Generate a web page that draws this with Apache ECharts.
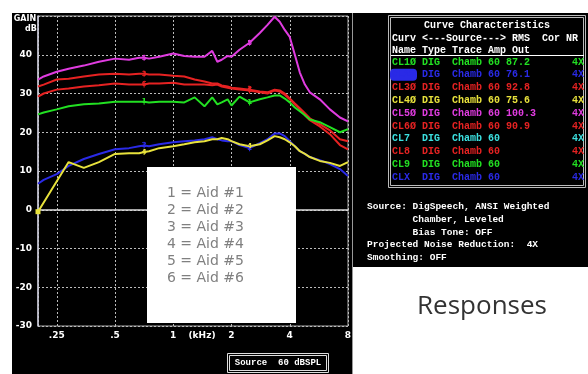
<!DOCTYPE html>
<html><head><meta charset="utf-8">
<script src="https://cdn.jsdelivr.net/npm/echarts@6/dist/echarts.min.js"></script>
<style>html,body{margin:0;padding:0;background:#fff}#c{width:588px;height:374px}</style>
</head><body><div id="c"></div>
<script>
// ---- data ----
const freqKHz = [0.2,0.214,0.25,0.288,0.345,0.413,0.5,0.591,0.666,0.707,0.75,0.846,1.0,1.14,1.29,1.45,1.59,1.69,1.78,1.91,2.0,2.2,2.48,2.8,3.07,3.34,3.55,3.77,4.0,4.25,4.51,4.79,5.08,5.72,6.45,7.27,8.0];
const aid1 = [24.6,25.1,25.9,26.7,27.2,27.4,27.9,27.9,27.9,27.9,27.7,27.9,27.9,27.7,29.0,26.7,29.0,27.2,27.7,28.5,26.9,29.2,27.7,28.5,29.0,29.5,29.5,28.7,27.7,26.4,25.4,24.4,23.3,22.6,21.3,20.0,20.8];
const aid2 = [6.7,7.7,9.2,11.3,13.1,14.4,15.6,15.9,16.4,16.6,16.4,16.9,17.4,17.7,17.9,18.2,18.7,18.2,17.9,17.7,17.7,16.7,15.9,17.2,18.2,19.7,19.7,19.0,17.7,16.4,15.1,14.4,13.6,12.8,11.8,10.5,8.7];
const aid3 = [31.8,32.3,33.6,33.8,34.4,34.9,35.1,34.9,35.1,35.1,34.9,34.9,34.6,34.4,33.6,33.1,32.6,32.6,32.1,31.8,31.5,31.3,31.0,30.5,30.3,31.0,30.8,30.0,28.7,27.4,26.2,24.9,23.6,22.1,20.5,18.2,17.7];
const aid4 = [-0.5,null,null,12.3,10.8,12.3,14.4,14.6,14.6,14.9,15.1,15.9,16.4,16.9,17.4,17.7,18.2,18.2,18.5,18.2,17.7,16.9,16.4,16.9,17.9,19.0,18.7,18.2,17.4,16.4,15.1,14.4,13.6,12.6,12.1,11.3,12.3];
const aid5 = [33.6,34.4,35.6,36.4,37.2,38.2,39.0,38.7,39.2,39.2,39.0,39.5,40.3,39.7,39.5,39.5,41.0,38.2,38.7,39.7,39.5,41.3,43.1,45.6,47.7,49.8,48.5,46.4,44.6,40.0,35.4,32.3,30.3,28.5,25.9,23.8,22.8];
const aid6 = [29.2,30.0,31.0,31.3,31.8,32.1,32.6,32.3,32.3,32.3,32.6,32.6,32.8,32.3,32.3,32.3,32.1,32.3,31.8,31.5,31.3,31.0,30.8,30.3,30.0,30.8,30.5,29.7,28.5,27.2,25.9,24.4,23.1,21.5,19.5,16.7,15.6];
const labelIdx = [9, 22];
const xTickLabels = {'-2':'.25','-1':'.5','0':'1','1':'2','2':'4','3':'8'};
const legendLines = ['1 = Aid #1','2 = Aid #2','3 = Aid #3','4 = Aid #4','5 = Aid #5','6 = Aid #6'];
const curveNames = ['CL1\u00D8','CL2\u00D8','CL3\u00D8','CL4\u00D8','CL5\u00D8','CL6\u00D8','CL7','CL8','CL9','CLX'];
const curveType = 'DIG';
const curveTrace = 'Chamb';
const curveAmp = '60';
const curveOut = ['87.2','76.1','92.8','75.6','100.3','90.9','','','',''];
const curveNR = '4X';
const infoLines = ['Source: DigSpeech, ANSI Weighted','        Chamber, Leveled','        Bias Tone: OFF','Projected Noise Reduction:  4X','Smoothing: OFF'];

// ---- styles ----
const C = {green:'#22e022', blue:'#2a2ae6', red:'#e62222', yellow:'#e8e23c', magenta:'#e03ce0', cyan:'#3ce0e0'};
const rowColors = [C.green,C.blue,C.red,C.yellow,C.magenta,C.red,C.cyan,C.red,C.green,C.blue];
const mono = '"Liberation Mono","DejaVu Sans Mono",monospace';

function mk(vals, color, num, first){
  const data = [];
  freqKHz.forEach((f,i)=>{
    const v = vals[i];
    if (v == null) return;
    if (labelIdx.indexOf(i) >= 0) data.push({value:[f,v], symbol:'rect', symbolSize:[1,6], itemStyle:{color:color},
      label:{show:true, formatter:String(num), position:'inside', color:color, fontSize:7, fontWeight:'bold', fontFamily:'DejaVu Sans'}});
    else if (i === 0 && first) data.push({value:[f,v], symbol:'rect', symbolSize:5, itemStyle:{color:color}});
    else data.push([f,v]);
  });
  return {type:'line', data, showSymbol:true, symbol:'none', lineStyle:{color, width:2}, itemStyle:{color}, silent:true, z:3};
}

const g = [];
g.push({type:'rect', shape:{x:0,y:0,width:588,height:13}, style:{fill:'#fff'}, z:0});
g.push({type:'rect', shape:{x:0,y:0,width:12,height:374}, style:{fill:'#fff'}, z:0});
g.push({type:'rect', shape:{x:353,y:267,width:235,height:107}, style:{fill:'#fff'}, z:0});
g.push({type:'line', shape:{x1:352.5,y1:13,x2:352.5,y2:374}, style:{stroke:'#999', lineWidth:1}, z:1});
g.push({type:'text', style:{text:'GAIN', x:25, y:19, fill:'#fff', font:'bold 8px "DejaVu Sans"', align:'center', verticalAlign:'middle'}, z:20});
g.push({type:'text', style:{text:'dB', x:31, y:29, fill:'#fff', font:'bold 8px "DejaVu Sans"', align:'center', verticalAlign:'middle'}, z:20});
g.push({type:'text', style:{text:'(kHz)', x:202, y:336, fill:'#fff', font:'bold 9px "DejaVu Sans"', align:'center', verticalAlign:'middle'}, z:20});
g.push({type:'rect', shape:{x:147,y:167,width:149,height:156}, style:{fill:'#fff'}, z:20});
legendLines.forEach((t,i)=>{
  g.push({type:'text', style:{text:t, x:167, y:193+i*17, fill:'#808080', font:'14px "DejaVu Sans"', align:'left', verticalAlign:'middle'}, z:21});
});
g.push({type:'rect', shape:{x:227.5,y:353.5,width:101,height:19}, style:{fill:'#000', stroke:'#ddd', lineWidth:1}, z:20});
g.push({type:'rect', shape:{x:229.5,y:355.5,width:97,height:15}, style:{fill:'none', stroke:'#ddd', lineWidth:1}, z:20});
g.push({type:'text', style:{text:'Source  60 dBSPL', x:278, y:363, fill:'#fff', font:'bold 9px '+mono, align:'center', verticalAlign:'middle'}, z:21});
g.push({type:'rect', shape:{x:388.5,y:15.5,width:197,height:172}, style:{fill:'none', stroke:'#bbb', lineWidth:1}, z:20});
g.push({type:'rect', shape:{x:390.5,y:17.5,width:193,height:168}, style:{fill:'none', stroke:'#bbb', lineWidth:1}, z:20});
const tf = 'bold 10px '+mono, x0 = 392, cw = 6;
g.push({type:'text', style:{text:'Curve Characteristics', x:487, y:25, fill:'#fff', font:tf, align:'center', verticalAlign:'middle'}, z:21});
g.push({type:'text', style:{text:'Curv <---Source---> RMS  Cor NR', x:x0, y:38, fill:'#fff', font:tf, align:'left', verticalAlign:'middle'}, z:21});
g.push({type:'text', style:{text:'Name Type Trace Amp Out', x:x0, y:50, fill:'#fff', font:tf, align:'left', verticalAlign:'middle'}, z:21});
g.push({type:'line', shape:{x1:391,y1:55.5,x2:584,y2:55.5}, style:{stroke:'#fff', lineWidth:1}, z:21});
curveNames.forEach((n,i)=>{
  const y = 62 + i*12.8, col = rowColors[i];
  if (i === 1) g.push({type:'rect', shape:{x:390,y:y-6,width:27,height:12,r:4}, style:{fill:col}, z:21});
  const cells = [[n,0],[curveType,5],[curveTrace,10],[curveAmp,16],[curveOut[i],19],[curveNR,30]];
  cells.forEach(([t,c])=>{
    if (!t) return;
    g.push({type:'text', style:{text:t, x:x0+c*cw, y, fill:col, font:tf, align:'left', verticalAlign:'middle'}, z:22});
  });
});
infoLines.forEach((t,i)=>{
  g.push({type:'text', style:{text:t, x:367, y:207+i*12.7, fill:'#fff', font:'bold 9.5px '+mono, align:'left', verticalAlign:'middle'}, z:21});
});
g.push({type:'text', style:{text:'Responses', x:482, y:307, fill:'#333', font:'26px "Open Sans"', align:'center', verticalAlign:'middle'}, z:21});

const chart = echarts.init(document.getElementById('c'), null, {renderer:'canvas'});
chart.setOption({
  backgroundColor:'#000',
  animation:false,
  grid:{left:38, right:240, top:16, bottom:48, show:true, borderColor:'#aaa', borderWidth:1, backgroundColor:'#000'},
  xAxis:{type:'log', logBase:2, min:0.2, max:8,
    axisLine:{show:true, lineStyle:{color:'#ddd', width:1.5}}, axisTick:{show:false},
    splitLine:{show:true, lineStyle:{color:'#bbb', type:[2,2], width:1}},
    minorTick:{show:false}, minorSplitLine:{show:false},
    axisLabel:{color:'#fff', fontSize:9, fontWeight:'bold', fontFamily:'DejaVu Sans', margin:5, showMinLabel:false,
      formatter:v=>{const k=Math.round(Math.log2(v)*100)/100; return xTickLabels[String(k)]||'';}}},
  yAxis:{type:'value', min:-30, max:50, interval:10,
    axisLine:{show:true, lineStyle:{color:'#ccd', width:1.5}}, axisTick:{show:false},
    splitLine:{show:true, lineStyle:{color:'#bbb', type:[2,2], width:1}},
    axisLabel:{color:'#fff', fontSize:9, fontWeight:'bold', fontFamily:'DejaVu Sans', margin:6,
      formatter:v=> v===50 ? '' : String(v)}},
  series:[
    mk(aid5, C.magenta, 5),
    mk(aid3, C.red, 3),
    mk(aid6, C.red, 6),
    mk(aid1, C.green, 1),
    mk(aid2, C.blue, 2),
    mk(aid4, C.yellow, 4, true)
  ],
  graphic:{elements:g}
});
</script></body></html>
